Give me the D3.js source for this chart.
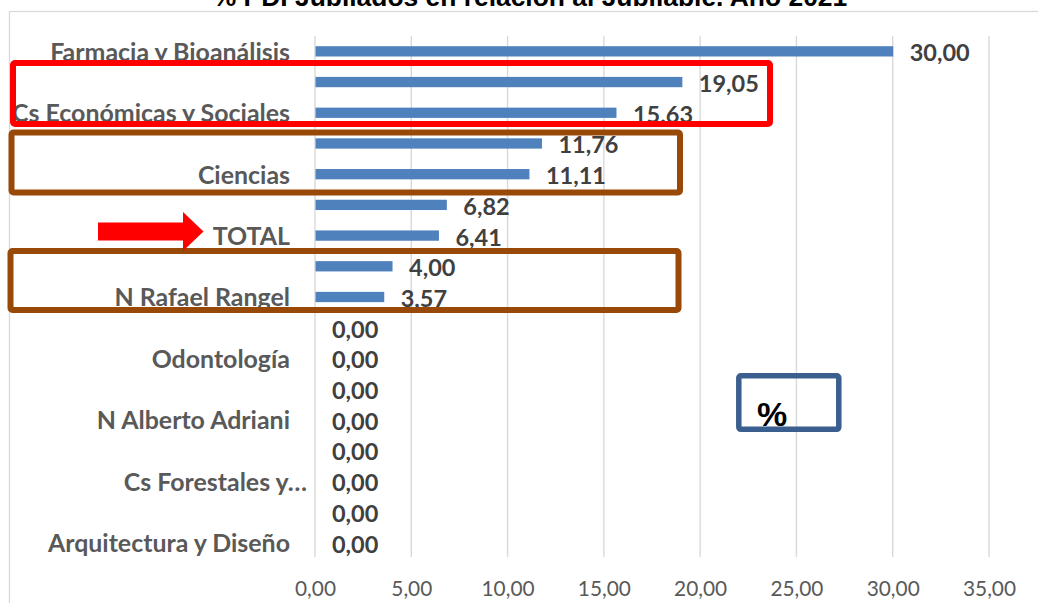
<!DOCTYPE html>
<html><head><meta charset="utf-8">
<script src="https://cdn.jsdelivr.net/npm/d3@7"></script>
<style>body{margin:0;background:#fff;overflow:hidden} svg{display:block}</style>
</head><body><svg id="c" width="1038" height="603"></svg>
<script>
// ---- data ----
const categories = [
  "Farmacia y Bioanálisis", "Medicina", "Cs Económicas y Sociales", "Ingeniería",
  "Ciencias", "Humanidades y Educación", "TOTAL", "Cs Jurídicas y Políticas",
  "N Rafael Rangel", "N Táchira", "Odontología", "Artes",
  "N Alberto Adriani", "N Valle del Mocotíes", "Cs Forestales y Ambientales", "Dependencias Centrales",
  "Arquitectura y Diseño"
];
const values = [30.00, 19.05, 15.63, 11.76, 11.11, 6.82, 6.41, 4.00, 3.57, 0, 0, 0, 0, 0, 0, 0, 0];
const valueLabels = ["30,00", "19,05", "15.63", "11,76", "11,11", "6,82", "6,41", "4,00", "3,57",
  "0,00", "0,00", "0,00", "0,00", "0,00", "0,00", "0,00", "0,00"];
const xTicks = [0, 5, 10, 15, 20, 25, 30, 35];
const title = "% PDI Jubilados en relación al Jubilable. Año 2021";
const boxText = "%";

// ---- setup ----
const svg = d3.select("#c");
const BODY = "Lato, 'Open Sans', sans-serif";
const TITLEF = "'Liberation Sans', Arial, sans-serif";

function fitSize(text, family, weight, target) {
  const t = svg.append("text").attr("font-family", family).attr("font-weight", weight)
    .attr("font-size", 100).text(text);
  const w = t.node().getComputedTextLength();
  t.remove();
  return 100 * target / w;
}
const catFs = fitSize("Farmacia y Bioanálisis", BODY, 700, 240);
const valFs = fitSize("30,00", BODY, 700, 60);
const tickFs = fitSize("0,00", BODY, 400, 41);
const titleFs = fitSize(title, TITLEF, 700, 635);
const capRatio = 0.72;

const x = d3.scaleLinear().domain([0, 35]).range([315, 989]);
const y = d3.scaleBand().domain(categories).range([36, 558]).paddingInner(0.665).paddingOuter(0.3325);

// chart border
svg.append("rect").attr("x", 9.5).attr("y", 11.5).attr("width", 1100).attr("height", 700)
  .attr("fill", "#fff").attr("stroke", "#d9d9d9").attr("stroke-width", 1.3);

// title (partly above the visible area, as in the original)
svg.append("text").attr("x", 530).attr("y", 6).attr("text-anchor", "middle")
  .attr("font-family", TITLEF).attr("font-weight", 700).attr("font-size", titleFs)
  .attr("fill", "#000").text(title);

// gridlines
svg.append("g").selectAll("line").data(xTicks).join("line")
  .attr("x1", d => x(d)).attr("x2", d => x(d)).attr("y1", 36).attr("y2", 557)
  .attr("stroke", "#d9d9d9").attr("stroke-width", 1.4);

// x axis labels
const fmt = d => d3.format(".2f")(d).replace(".", ",");
const xg = svg.append("g").attr("transform", "translate(0,596)")
  .call(d3.axisBottom(x).tickValues(xTicks).tickFormat(fmt).tickSize(0).tickPadding(0));
xg.select(".domain").remove();
xg.selectAll("text").attr("y", 0).attr("dy", 0)
  .attr("font-family", BODY).attr("font-size", tickFs).attr("fill", "#595959");

// y axis labels (every other category, like the original)
const yg = svg.append("g").attr("transform", "translate(290,0)")
  .call(d3.axisLeft(y).tickValues(categories.filter((d, i) => i % 2 === 0)).tickSize(0).tickPadding(0));
yg.select(".domain").remove();
yg.selectAll("text").attr("dy", 0).attr("y", catFs * capRatio / 2 + 0.5)
  .attr("font-family", BODY).attr("font-weight", 700).attr("font-size", catFs).attr("fill", "#595959")
  .each(function (d) {
    const t = d3.select(this);
    if (this.getComputedTextLength() > 290) {
      // word-boundary ellipsis, label running closer to the axis
      let words = d.split(" ");
      while (words.length > 1) {
        words = words.slice(0, -1);
        t.text(words.join(" ") + "…");
        if (this.getComputedTextLength() <= 275) break;
      }
      t.attr("x", 17);
    }
  });

// bars
svg.append("g").selectAll("rect").data(values).join("rect")
  .attr("x", x(0) + 0.5)
  .attr("y", (d, i) => y(categories[i]))
  .attr("width", d => Math.max(0, x(d) - x(0)))
  .attr("height", y.bandwidth())
  .attr("fill", "#4f81bd");

// value labels
svg.append("g").selectAll("text").data(values).join("text")
  .attr("x", d => x(d) + 17)
  .attr("y", (d, i) => y(categories[i]) + y.bandwidth() / 2 + valFs * capRatio / 2 + 1.5)
  .attr("font-family", BODY).attr("font-weight", 700).attr("font-size", valFs).attr("fill", "#404040")
  .text((d, i) => valueLabels[i]);

// annotations
const ann = svg.append("g").attr("fill", "none");
ann.append("rect").attr("x", 13).attr("y", 63).attr("width", 757).attr("height", 61)
  .attr("rx", 2).attr("stroke", "#ff0000").attr("stroke-width", 6);
ann.append("rect").attr("x", 11.5).attr("y", 132.5).attr("width", 668.5).attr("height", 60)
  .attr("rx", 2).attr("stroke", "#984807").attr("stroke-width", 6);
ann.append("rect").attr("x", 10.5).attr("y", 251).attr("width", 668).attr("height", 59)
  .attr("rx", 2).attr("stroke", "#984807").attr("stroke-width", 6);
svg.append("path")
  .attr("d", "M98,222.5 L183,222.5 L183,212 L203.5,231.5 L183,251 L183,240.5 L98,240.5 Z")
  .attr("fill", "#ff0000");
svg.append("rect").attr("x", 738.8).attr("y", 375.8).attr("width", 100).attr("height", 53.5)
  .attr("rx", 2).attr("fill", "none").attr("stroke", "#3a5f8e").attr("stroke-width", 5.5);
svg.append("text").attr("x", 757).attr("y", 425.5)
  .attr("font-family", TITLEF).attr("font-weight", 700).attr("font-size", 34).attr("fill", "#000")
  .text(boxText);
</script>
</body></html>
